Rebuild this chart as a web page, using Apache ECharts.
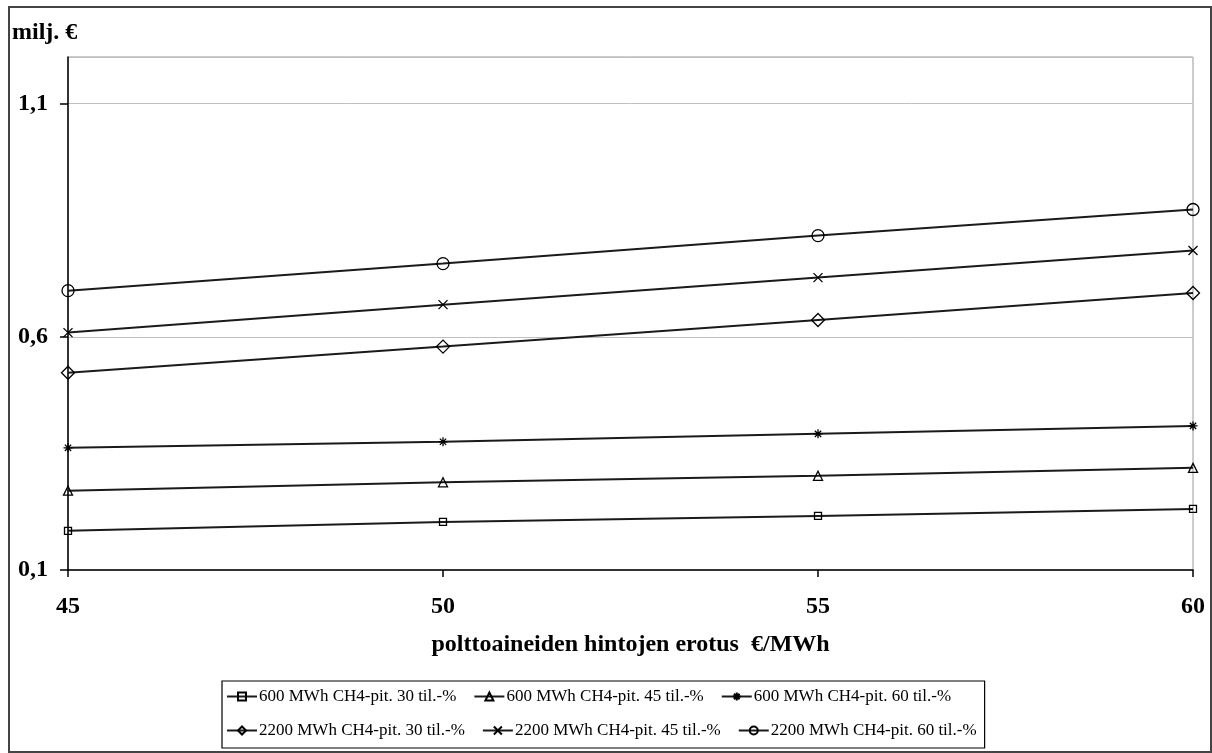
<!DOCTYPE html>
<html><head><meta charset="utf-8">
<script src="https://cdn.jsdelivr.net/npm/echarts@6/dist/echarts.min.js"></script>
<style>html,body{margin:0;padding:0;background:#fff}#c{width:1212px;height:753px}</style>
</head><body><div id="c"></div>
<script>
const xValues = [45, 50, 55, 60];
const xTicks = [45, 50, 55, 60];
const yTicks = [0.1, 0.6, 1.1];
const names = [
  '600 MWh CH4-pit. 30 til.-%',
  '600 MWh CH4-pit. 45 til.-%',
  '600 MWh CH4-pit. 60 til.-%',
  '2200 MWh CH4-pit. 30 til.-%',
  '2200 MWh CH4-pit. 45 til.-%',
  '2200 MWh CH4-pit. 60 til.-%'
];
const s600_30 = [0.184, 0.203, 0.216, 0.231];
const s600_45 = [0.270, 0.288, 0.302, 0.319];
const s600_60 = [0.362, 0.375, 0.392, 0.409];
const s2200_30 = [0.523, 0.579, 0.636, 0.694];
const s2200_45 = [0.609, 0.669, 0.727, 0.785];
const s2200_60 = [0.699, 0.757, 0.817, 0.873];
const allValues = [s600_30, s600_45, s600_60, s2200_30, s2200_45, s2200_60];

const symbols = [
  {symbol: 'rect', size: 7},
  {symbol: 'triangle', size: 9},
  {symbol: 'path://M5,0L5,10M0,5L10,5M1.5,1.5L8.5,8.5M1.5,8.5L8.5,1.5', size: 9},
  {symbol: 'diamond', size: 13},
  {symbol: 'path://M0,0L10,10M0,10L10,0', size: 9},
  {symbol: 'circle', size: 12}
];

const font = 'Liberation Serif';
const chart = echarts.init(document.getElementById('c'));
const series = allValues.map((vals, i) => ({
  name: names[i],
  type: 'line',
  data: xValues.map((x, j) => [x, vals[j]]),
  symbol: symbols[i].symbol,
  symbolSize: symbols[i].size,
  showAllSymbol: true,
  lineStyle: {color: '#1a1a1a', width: 2},
  itemStyle: {color: i === 2 ? '#000' : 'rgba(255,255,255,0)', borderColor: '#000', borderWidth: 1.3},
  emphasis: {disabled: true},
  animation: false
}));

chart.setOption({
  animation: false,
  backgroundColor: '#fff',
  textStyle: {fontFamily: font},
  grid: {left: 68, top: 57, right: 19, bottom: 183, show: true, borderColor: '#999', borderWidth: 1},
  xAxis: {
    type: 'value', min: 45, max: 60, interval: 5,
    name: 'polttoaineiden hintojen erotus  €/MWh',
    nameLocation: 'middle', nameGap: 63,
    nameTextStyle: {fontFamily: font, fontSize: 24, fontWeight: 'bold', color: '#000'},
    axisLine: {show: true, lineStyle: {color: '#000', width: 1.5}},
    axisTick: {show: true, inside: false, length: 7, lineStyle: {color: '#000', width: 1.5}},
    axisLabel: {fontFamily: font, fontSize: 24, fontWeight: 'bold', color: '#000', margin: 25,
      formatter: v => xTicks.includes(v) ? String(v) : ''},
    splitLine: {show: false}
  },
  yAxis: {
    type: 'value', min: 0.1, max: 1.2, interval: 0.5,
    name: 'milj. €', nameLocation: 'end', nameGap: 0,
    nameTextStyle: {fontFamily: font, fontSize: 24, fontWeight: 'bold', color: '#000', align: 'left', padding: [0, 0, 12, -56]},
    axisLine: {show: true, lineStyle: {color: '#000', width: 1.5}},
    axisTick: {show: true, inside: false, length: 8, lineStyle: {color: '#000', width: 1.5}},
    axisLabel: {fontFamily: font, fontSize: 24, fontWeight: 'bold', color: '#000', margin: 20, showMaxLabel: false,
      formatter: v => { const t = yTicks.find(k => Math.abs(k - v) < 1e-6); return t === undefined ? '' : t.toFixed(1).replace('.', ','); }},
    splitLine: {show: true, lineStyle: {color: '#c0c0c0', width: 1}}
  },
  legend: {
    left: 222, top: 681, width: 790,
    orient: 'horizontal',
    data: names,
    itemWidth: 30, itemHeight: 10, itemGap: 17,
    padding: [7, 8, 9, 4],
    borderColor: '#000', borderWidth: 1.2,
    textStyle: {fontFamily: font, fontSize: 17, color: '#000', padding: [0, 0, 0, -3]},
    selectedMode: false
  },
  graphic: [{
    type: 'rect', silent: true, z: -1,
    shape: {x: 9, y: 7, width: 1202, height: 745},
    style: {fill: 'none', stroke: '#444', lineWidth: 2}
  }],
  series: series
});
</script></body></html>
